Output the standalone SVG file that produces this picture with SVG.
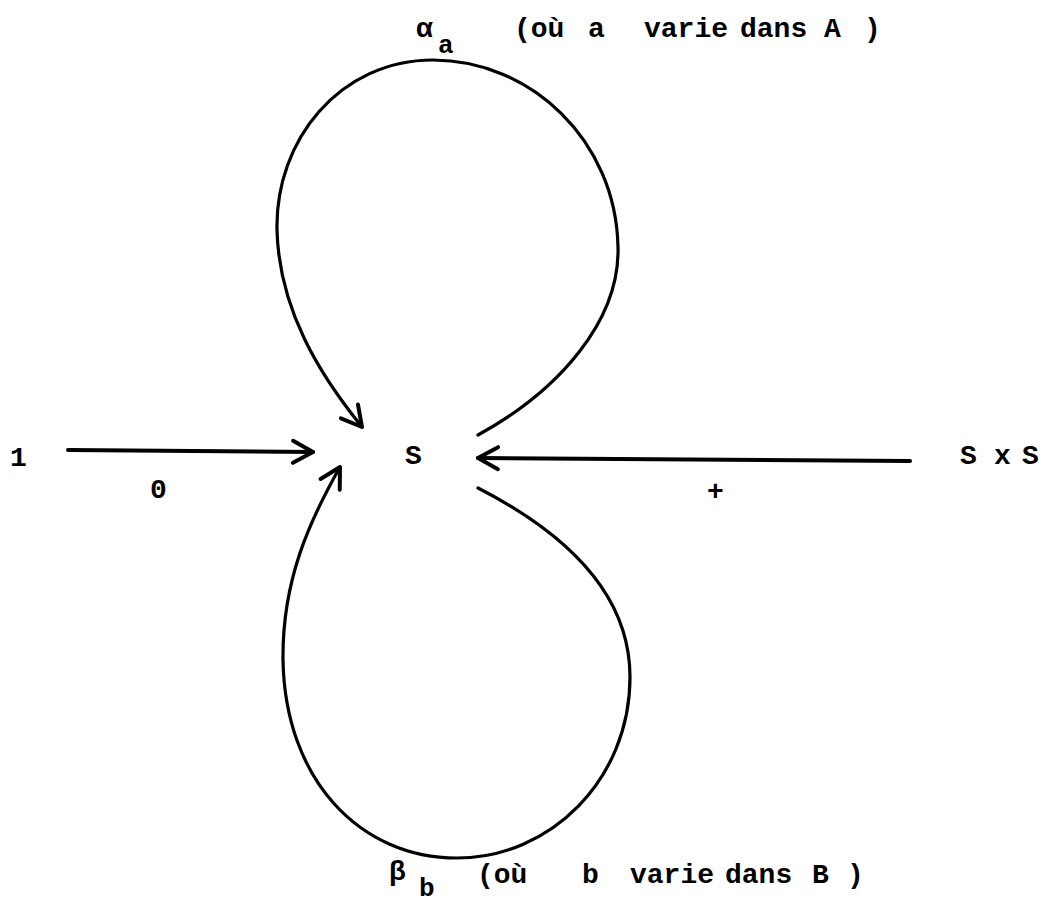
<svg xmlns="http://www.w3.org/2000/svg" width="1047" height="915" viewBox="0 0 1047 915">
<style>
.t{font-family:"Liberation Mono","DejaVu Sans Mono",monospace;font-size:28px;font-weight:bold;fill:#000}
.s{font-family:"Liberation Mono","DejaVu Sans Mono",monospace;font-size:26px;font-weight:bold;fill:#000}
.c{fill:none;stroke:#000;stroke-width:3.2;stroke-linecap:round}
.a{fill:none;stroke:#000;stroke-width:4;stroke-linecap:round}
</style>
<defs>
<marker id="v" markerUnits="userSpaceOnUse" viewBox="-24 -15 28 30" refX="0" refY="0" markerWidth="28" markerHeight="30" orient="auto" overflow="visible">
<path d="M-20,-11 L0,0 L-20,11" fill="none" stroke="#000" stroke-width="4" stroke-linecap="round" stroke-linejoin="round"/>
</marker>
</defs>
<rect width="1047" height="915" fill="#fff"/>
<g id="connectors">
<path class="c" d="M478,435 C560,390 620,320 618,247 C616,140 530,60 433,60 C340,60 275,140 277,230 C279,310 320,375 362,427" marker-end="url(#v)"/>
<path class="c" d="M478,488 C560,530 630,590 630,677 C630,780 550,858 457,858 C360,858 285,780 283,660 C282,580 310,520 340,467" marker-end="url(#v)"/>
<path class="a" d="M68,450 L313,452" marker-end="url(#v)"/>
<path class="a" d="M910,461 L478,458" marker-end="url(#v)"/>
</g>
<g id="node-1"><text class="t" x="10" y="466">1</text></g>
<g id="node-S"><text class="t" x="405" y="464">S</text></g>
<g id="node-SxS"><text class="t" x="960" y="464">S<tspan x="994">x</tspan><tspan x="1022">S</tspan></text></g>
<g id="label-0"><text class="t" x="150" y="498">0</text></g>
<g id="label-plus"><text class="t" x="707" y="500">+</text></g>
<g id="label-alpha"><text class="t" x="416" y="37">α</text><text class="s" x="438" y="53">a</text>
<text class="t" x="514" y="37">(où<tspan x="588">a</tspan><tspan x="644">varie</tspan><tspan x="740">dans</tspan><tspan x="824">A</tspan><tspan x="864">)</tspan></text></g>
<g id="label-beta"><text class="t" x="389" y="880">β</text><text class="s" x="419" y="896">b</text>
<text class="t" x="477" y="883">(où<tspan x="582">b</tspan><tspan x="630">varie</tspan><tspan x="725">dans</tspan><tspan x="812">B</tspan><tspan x="847">)</tspan></text></g>
</svg>
